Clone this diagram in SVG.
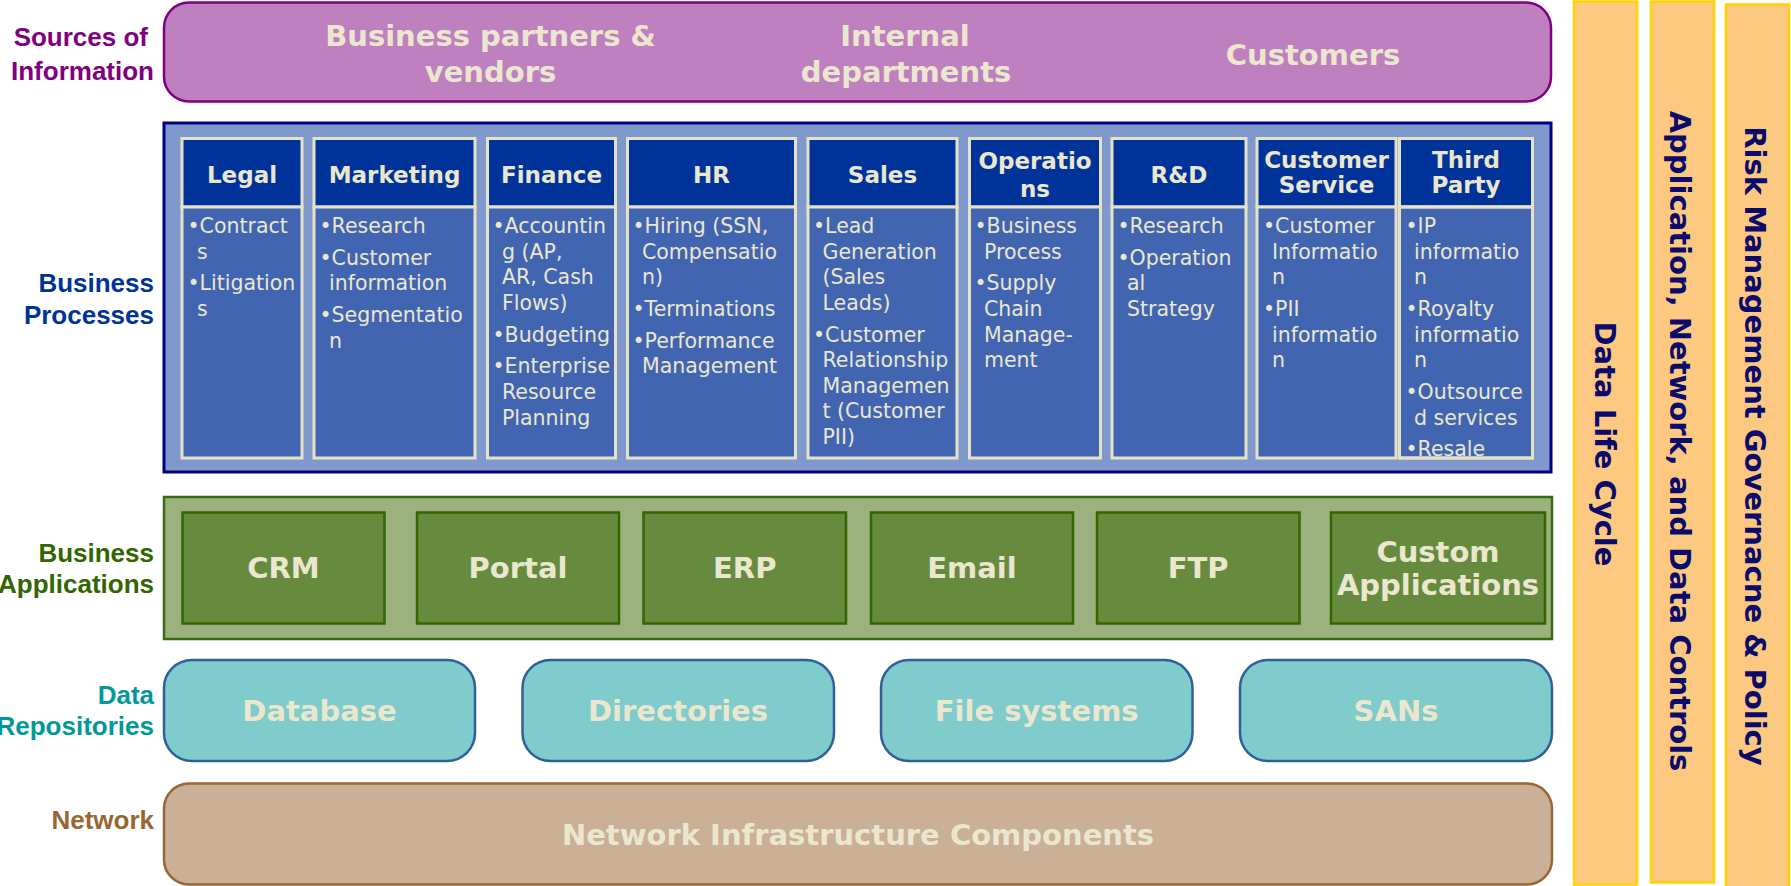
<svg xmlns="http://www.w3.org/2000/svg" width="1791" height="886" viewBox="0 0 1791 886">
<style>
.lbl{font-family:"Liberation Sans",Arial,sans-serif;font-weight:bold;font-size:26px;text-anchor:end}
.big{font-family:"DejaVu Sans",Verdana,sans-serif;font-weight:bold;font-size:29px;fill:#ebe7cf;text-anchor:middle}
.hd{font-family:"DejaVu Sans",Verdana,sans-serif;font-weight:bold;font-size:23px;fill:#ebe7cf;text-anchor:middle}
.bd{font-family:"DejaVu Sans",Verdana,sans-serif;font-size:20.5px;fill:#ebe7cf}
.colh{fill:#003399;stroke:#e6e2c8;stroke-width:3}
.colb{fill:#4165b1;stroke:#e6e2c8;stroke-width:3}
.app{fill:#668b3f;stroke:#336600;stroke-width:2.5}
.repo{fill:#80cbcb;stroke:#30609a;stroke-width:2.5}
.bar{fill:#fdc981;stroke:#ffd200;stroke-width:2.5}
.bartx{font-family:"DejaVu Sans",Verdana,sans-serif;font-weight:bold;font-size:29px;fill:#0b0b6b;text-anchor:middle}
</style>
<defs>
<clipPath id="tpClip"><rect x="1399.5" y="207" width="133" height="251"/></clipPath>
</defs>
<rect width="1791" height="886" fill="#ffffff"/>

<!-- layer labels -->
<g id="labels" class="lbl">
<text fill="#800080"><tspan x="148" y="46">Sources of</tspan><tspan x="154" y="80">Information</tspan></text>
<text fill="#003399"><tspan x="154" y="292">Business</tspan><tspan x="154" y="324">Processes</tspan></text>
<text fill="#336600"><tspan x="154" y="562">Business</tspan><tspan x="154" y="593">Applications</tspan></text>
<text fill="#009999"><tspan x="154" y="704">Data</tspan><tspan x="154" y="735">Repositories</tspan></text>
<text fill="#996633"><tspan x="154" y="829">Network</tspan></text>
</g>

<!-- sources of information -->
<g id="sources">
<rect x="164" y="2.5" width="1387" height="99" rx="25" fill="#bf80bf" stroke="#800080" stroke-width="2.5"/>
<text class="big"><tspan x="490.5" y="46">Business partners &amp;</tspan><tspan x="490.5" y="82">vendors</tspan></text>
<text class="big"><tspan x="905" y="46">Internal</tspan><tspan x="906" y="82">departments</tspan></text>
<text class="big" x="1313" y="65">Customers</text>
</g>

<!-- business processes -->
<g id="processes">
<rect x="164" y="123" width="1387" height="349" fill="#8099cc" stroke="#000080" stroke-width="3"/>

<g id="legal">
<rect class="colh" x="182" y="138.5" width="120" height="68.5"/>
<rect class="colb" x="182" y="207" width="120" height="251"/>
<text class="hd" x="242" y="182.5">Legal</text>
<text class="bd"><tspan x="187.5" y="233">•Contract</tspan><tspan x="197" y="258.6">s</tspan><tspan x="187.5" y="290.4">•Litigation</tspan><tspan x="197" y="316">s</tspan></text>
</g>

<g id="marketing">
<rect class="colh" x="314" y="138.5" width="161" height="68.5"/>
<rect class="colb" x="314" y="207" width="161" height="251"/>
<text class="hd" x="394.5" y="182.5">Marketing</text>
<text class="bd"><tspan x="319.5" y="233">•Research</tspan><tspan x="319.5" y="264.8">•Customer</tspan><tspan x="329" y="290.4">information</tspan><tspan x="319.5" y="322.2">•Segmentatio</tspan><tspan x="329" y="347.8">n</tspan></text>
</g>

<g id="finance">
<rect class="colh" x="487.5" y="138.5" width="128" height="68.5"/>
<rect class="colb" x="487.5" y="207" width="128" height="251"/>
<text class="hd" x="551.5" y="182.5">Finance</text>
<text class="bd"><tspan x="492.5" y="233">•Accountin</tspan><tspan x="502" y="258.6">g (AP,</tspan><tspan x="502" y="284.2">AR, Cash</tspan><tspan x="502" y="309.8">Flows)</tspan><tspan x="492.5" y="341.6">•Budgeting</tspan><tspan x="492.5" y="373.4">•Enterprise</tspan><tspan x="502" y="399">Resource</tspan><tspan x="502" y="424.6">Planning</tspan></text>
</g>

<g id="hr">
<rect class="colh" x="627.5" y="138.5" width="168" height="68.5"/>
<rect class="colb" x="627.5" y="207" width="168" height="251"/>
<text class="hd" x="711.5" y="182.5">HR</text>
<text class="bd"><tspan x="632.5" y="233">•Hiring (SSN,</tspan><tspan x="642" y="258.6">Compensatio</tspan><tspan x="642" y="284.2">n)</tspan><tspan x="632.5" y="316">•Terminations</tspan><tspan x="632.5" y="347.8">•Performance</tspan><tspan x="642" y="373.4">Management</tspan></text>
</g>

<g id="sales">
<rect class="colh" x="808" y="138.5" width="149" height="68.5"/>
<rect class="colb" x="808" y="207" width="149" height="251"/>
<text class="hd" x="882.5" y="182.5">Sales</text>
<text class="bd"><tspan x="813" y="233">•Lead</tspan><tspan x="822.5" y="258.6">Generation</tspan><tspan x="822.5" y="284.2">(Sales</tspan><tspan x="822.5" y="309.8">Leads)</tspan><tspan x="813" y="341.6">•Customer</tspan><tspan x="822.5" y="367.2">Relationship</tspan><tspan x="822.5" y="392.8">Managemen</tspan><tspan x="822.5" y="418.4">t (Customer</tspan><tspan x="822.5" y="444">PII)</tspan></text>
</g>

<g id="operations">
<rect class="colh" x="969.5" y="138.5" width="131" height="68.5"/>
<rect class="colb" x="969.5" y="207" width="131" height="251"/>
<text class="hd"><tspan x="1035" y="169">Operatio</tspan><tspan x="1035" y="197">ns</tspan></text>
<text class="bd"><tspan x="974.5" y="233">•Business</tspan><tspan x="984" y="258.6">Process</tspan><tspan x="974.5" y="290.4">•Supply</tspan><tspan x="984" y="316">Chain</tspan><tspan x="984" y="341.6">Manage-</tspan><tspan x="984" y="367.2">ment</tspan></text>
</g>

<g id="rnd">
<rect class="colh" x="1112" y="138.5" width="134" height="68.5"/>
<rect class="colb" x="1112" y="207" width="134" height="251"/>
<text class="hd" x="1179" y="182.5">R&amp;D</text>
<text class="bd"><tspan x="1117.5" y="233">•Research</tspan><tspan x="1117.5" y="264.8">•Operation</tspan><tspan x="1127" y="290.4">al</tspan><tspan x="1127" y="316">Strategy</tspan></text>
</g>

<g id="customer-service">
<rect class="colh" x="1257" y="138.5" width="139" height="68.5"/>
<rect class="colb" x="1257" y="207" width="139" height="251"/>
<text class="hd"><tspan x="1326.5" y="168">Customer</tspan><tspan x="1326.5" y="193">Service</tspan></text>
<text class="bd"><tspan x="1263" y="233">•Customer</tspan><tspan x="1272" y="258.6">Informatio</tspan><tspan x="1272" y="284.2">n</tspan><tspan x="1263" y="316">•PII</tspan><tspan x="1272" y="341.6">informatio</tspan><tspan x="1272" y="367.2">n</tspan></text>
</g>

<g id="third-party">
<rect class="colh" x="1399.5" y="138.5" width="133" height="68.5"/>
<rect class="colb" x="1399.5" y="207" width="133" height="251"/>
<text class="hd"><tspan x="1466" y="168">Third</tspan><tspan x="1466" y="193">Party</tspan></text>
<g clip-path="url(#tpClip)">
<text class="bd"><tspan x="1405.5" y="233">•IP</tspan><tspan x="1414" y="258.6">informatio</tspan><tspan x="1414" y="284.2">n</tspan><tspan x="1405.5" y="316">•Royalty</tspan><tspan x="1414" y="341.6">informatio</tspan><tspan x="1414" y="367.2">n</tspan><tspan x="1405.5" y="399">•Outsource</tspan><tspan x="1414" y="424.6">d services</tspan><tspan x="1405.5" y="456.4">•Resale</tspan></text>
</g>
<rect x="1399.5" y="207" width="133" height="251" fill="none" stroke="#e6e2c8" stroke-width="3"/>
</g>
</g>

<!-- business applications -->
<g id="applications">
<rect x="164" y="497" width="1388" height="142" fill="#9bb27f" stroke="#3a6b13" stroke-width="2.5"/>
<g id="crm"><rect class="app" x="182.5" y="512.5" width="202" height="111"/><text class="big" x="283.5" y="578">CRM</text></g>
<g id="portal"><rect class="app" x="417" y="512.5" width="202" height="111"/><text class="big" x="518" y="578">Portal</text></g>
<g id="erp"><rect class="app" x="643.5" y="512.5" width="202.5" height="111"/><text class="big" x="744.7" y="578">ERP</text></g>
<g id="email"><rect class="app" x="871" y="512.5" width="202" height="111"/><text class="big" x="972" y="578">Email</text></g>
<g id="ftp"><rect class="app" x="1097" y="512.5" width="202.5" height="111"/><text class="big" x="1198.2" y="578">FTP</text></g>
<g id="custom-apps"><rect class="app" x="1331" y="512.5" width="214" height="111"/><text class="big"><tspan x="1438" y="562">Custom</tspan><tspan x="1438" y="595">Applications</tspan></text></g>
</g>

<!-- data repositories -->
<g id="repositories">
<g id="database"><rect class="repo" x="164" y="660" width="311" height="101" rx="28"/><text class="big" x="319.5" y="721">Database</text></g>
<g id="directories"><rect class="repo" x="522.5" y="660" width="311.5" height="101" rx="28"/><text class="big" x="678" y="721">Directories</text></g>
<g id="file-systems"><rect class="repo" x="881" y="660" width="311.5" height="101" rx="28"/><text class="big" x="1036.7" y="721">File systems</text></g>
<g id="sans"><rect class="repo" x="1240" y="660" width="312" height="101" rx="28"/><text class="big" x="1396" y="721">SANs</text></g>
</g>

<!-- network -->
<g id="network">
<rect x="164" y="783.5" width="1388" height="101" rx="25" fill="#cab097" stroke="#996633" stroke-width="2.5"/>
<text class="big" x="858" y="845">Network Infrastructure Components</text>
</g>

<!-- vertical cross-cutting bars -->
<g id="data-life-cycle">
<rect class="bar" x="1574" y="1.5" width="63" height="883"/>
<text class="bartx" transform="translate(1594.5,444) rotate(90)">Data Life Cycle</text>
</g>
<g id="controls">
<rect class="bar" x="1651" y="1.5" width="63" height="881"/>
<text class="bartx" transform="translate(1670,441) rotate(90)">Application, Network, and Data Controls</text>
</g>
<g id="governance">
<rect class="bar" x="1726" y="4.5" width="63" height="883"/>
<text class="bartx" transform="translate(1745,446) rotate(90)">Risk Management Governacne &amp; Policy</text>
</g>
</svg>
